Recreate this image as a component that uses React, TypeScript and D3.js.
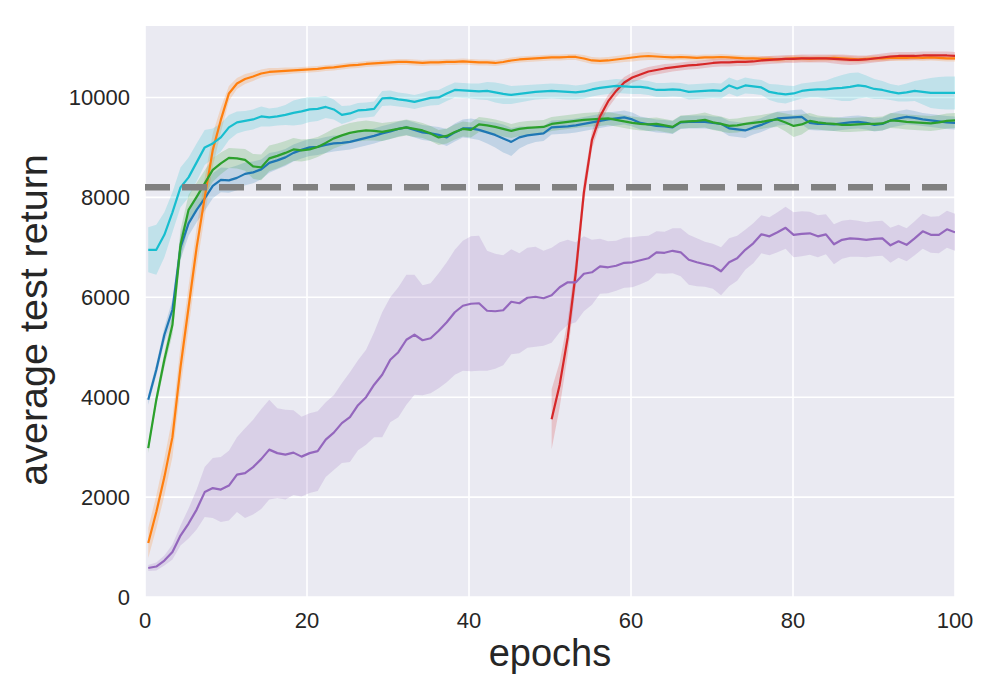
import React from 'react';
import * as d3 from 'd3';

// x positions of the logged points (one per epoch)
const epochs = d3.range(101).map(i => 0.4 + i * 0.996);

const blueMean = [
  3950, 4550, 5250, 5750, 7000, 7480, 7750, 7980, 8230, 8350,
  8340, 8390, 8470, 8500, 8560, 8690, 8740, 8800, 8890, 8950,
  9000, 9010, 9050, 9080, 9090, 9110, 9150, 9190, 9230, 9280,
  9320, 9370, 9400, 9350, 9300, 9280, 9250, 9200, 9300, 9380,
  9380, 9350, 9300, 9250, 9180, 9110, 9200, 9240, 9260, 9280,
  9400, 9410, 9420, 9440, 9470, 9500, 9530, 9560, 9580, 9600,
  9560, 9490, 9460, 9430, 9420, 9400, 9500, 9510, 9510, 9510,
  9490, 9470, 9380, 9360, 9340, 9400, 9450, 9520, 9580, 9590,
  9600, 9610, 9490, 9470, 9470, 9460, 9480, 9500, 9510, 9490,
  9450, 9470, 9540, 9580, 9610, 9590, 9560, 9540, 9520, 9500,
  9490,
];
const blueSpread = [
  100, 120, 150, 200, 250, 250, 250, 250, 250, 250,
  250, 250, 230, 220, 200, 200, 180, 170, 170, 170,
  170, 160, 160, 160, 150, 150, 150, 150, 150, 150,
  150, 150, 150, 150, 150, 150, 160, 170, 180, 180,
  200, 200, 220, 250, 280, 280, 220, 180, 150, 150,
  140, 140, 140, 140, 140, 140, 140, 140, 140, 140,
  140, 130, 130, 130, 130, 130, 130, 130, 130, 130,
  130, 140, 150, 150, 150, 140, 140, 140, 140, 140,
  150, 150, 140, 130, 130, 130, 130, 130, 130, 130,
  130, 130, 140, 150, 150, 140, 130, 130, 130, 130,
  130,
];

const orangeMean = [
  1080, 1700, 2400, 3200, 4600, 5800, 7000, 8000, 8950, 9550,
  10080, 10280, 10370, 10420, 10480, 10510, 10520, 10530, 10540, 10550,
  10560, 10570, 10590, 10600, 10620, 10640, 10650, 10670, 10680, 10690,
  10700, 10710, 10710, 10700, 10690, 10700, 10700, 10710, 10710, 10720,
  10710, 10700, 10700, 10690, 10710, 10740, 10760, 10770, 10780, 10790,
  10800, 10800, 10810, 10810, 10780, 10740, 10730, 10740, 10760, 10780,
  10800, 10820, 10830, 10820, 10810, 10800, 10810, 10800, 10790, 10800,
  10800, 10810, 10800, 10790, 10780, 10780, 10770, 10770, 10760, 10770,
  10780, 10780, 10770, 10780, 10780, 10790, 10780, 10770, 10760, 10770,
  10780, 10780, 10790, 10790, 10790, 10800, 10790, 10800, 10790, 10780,
  10780,
];
const orangeSpread = [
  300, 330, 370, 400, 420, 420, 400, 380, 330, 250,
  150, 110, 100, 90, 80, 80, 70, 70, 60, 60,
  60, 60, 60, 60, 60, 60, 60, 60, 60, 60,
  60, 60, 60, 60, 60, 60, 60, 60, 60, 60,
  60, 60, 60, 60, 60, 60, 60, 60, 60, 60,
  60, 60, 60, 60, 70, 70, 70, 70, 70, 70,
  80, 80, 80, 70, 60, 60, 60, 60, 60, 60,
  60, 60, 60, 60, 60, 60, 60, 60, 60, 60,
  60, 60, 60, 60, 60, 60, 60, 60, 60, 60,
  60, 60, 60, 60, 60, 60, 60, 60, 60, 60,
  60,
];

const greenMean = [
  2980, 3950, 4750, 5450, 7050, 7750, 8010, 8280, 8550, 8680,
  8790, 8780, 8750, 8620, 8600, 8780, 8830, 8890, 8960, 8940,
  8960, 9010, 9090, 9180, 9240, 9290, 9320, 9340, 9330, 9310,
  9340, 9370, 9400, 9370, 9340, 9280, 9200, 9230, 9310, 9370,
  9350, 9460, 9440, 9410, 9370, 9330, 9370, 9390, 9400, 9410,
  9470, 9490, 9510, 9530, 9550, 9560, 9570, 9580, 9550, 9520,
  9490, 9470, 9460, 9470, 9440, 9410, 9510, 9520, 9530, 9550,
  9500, 9470, 9430, 9440, 9470, 9490, 9510, 9540, 9560, 9500,
  9430, 9460, 9530, 9500, 9480, 9470, 9450, 9450, 9460, 9470,
  9470, 9480, 9540, 9530, 9510, 9500, 9490, 9480, 9500, 9530,
  9540,
];
const greenSpread = [
  100, 120, 150, 200, 300, 300, 280, 260, 240, 220,
  200, 200, 220, 250, 260, 260, 250, 240, 230, 220,
  210, 200, 200, 200, 200, 200, 200, 200, 190, 180,
  170, 160, 160, 160, 150, 150, 150, 150, 150, 150,
  150, 150, 150, 150, 150, 140, 140, 140, 140, 140,
  140, 140, 140, 140, 140, 140, 140, 130, 130, 130,
  130, 130, 130, 130, 130, 130, 130, 130, 140, 150,
  150, 150, 140, 140, 140, 140, 140, 140, 150, 180,
  220, 200, 160, 140, 140, 140, 140, 140, 140, 140,
  140, 140, 150, 150, 150, 150, 150, 150, 150, 150,
  150,
];

// red run only starts logging at epoch 50
const redStart = 50;
const redMean = [
  3560, 4250, 5200, 6500, 8100, 9150, 9620, 9920, 10130, 10300,
  10400, 10460, 10520, 10550, 10580, 10600, 10620, 10640, 10650, 10670,
  10690, 10700, 10700, 10710, 10710, 10720, 10740, 10750, 10760, 10770,
  10770, 10780, 10780, 10780, 10780, 10770, 10760, 10750, 10750, 10760,
  10780, 10800, 10820, 10830, 10830, 10830, 10840, 10840, 10840, 10840,
  10830,
];
const redSpread = [
  600, 450, 350, 280, 230, 180, 150, 130, 120, 110,
  100, 100, 90, 90, 90, 80, 80, 80, 80, 80,
  80, 80, 80, 80, 80, 80, 80, 80, 80, 80,
  80, 80, 80, 80, 80, 90, 100, 100, 90, 80,
  80, 80, 80, 80, 80, 80, 80, 80, 80, 80,
  80,
];

const purpleMean = [
  580, 610, 730, 900, 1230, 1470, 1750, 2100, 2180, 2150,
  2230, 2450, 2480, 2600, 2760, 2950, 2880, 2850, 2890, 2810,
  2880, 2920, 3150, 3290, 3480, 3600, 3840, 4000, 4250, 4450,
  4750, 4900, 5150, 5250, 5140, 5180, 5330, 5500, 5700, 5830,
  5870, 5880, 5730, 5720, 5740, 5910, 5880, 5990, 6010, 5980,
  6040, 6200, 6300, 6300, 6470, 6500, 6620, 6600, 6630, 6690,
  6700, 6740, 6780, 6900, 6890, 6930, 6900, 6750, 6700, 6660,
  6620, 6520, 6700, 6780, 6950, 7080, 7260, 7220, 7300, 7390,
  7250, 7270, 7280, 7220, 7260, 7060, 7150, 7180, 7170, 7150,
  7170, 7180, 7040, 7120, 7050, 7180, 7320, 7250, 7250, 7360,
  7300,
];
const purpleSpread = [
  60, 80, 100, 150, 200, 300, 400, 500, 600, 650,
  700, 750, 900, 950, 1000, 1000, 900, 900, 850, 800,
  800, 800, 750, 750, 800, 900, 900, 950, 1050, 1250,
  1250, 1300, 1300, 1200, 1100, 1100, 1150, 1200, 1250, 1300,
  1350, 1350, 1200, 1150, 1100, 1050, 1000, 1000, 1000, 950,
  950, 900, 850, 800, 750, 650, 550, 520, 500, 500,
  500, 480, 450, 420, 420, 450, 480, 500, 480, 450,
  450, 480, 480, 450, 400, 400, 380, 380, 400, 420,
  450, 450, 430, 420, 400, 400, 380, 370, 360, 350,
  350, 350, 350, 330, 330, 340, 350, 360, 370, 370,
  370,
];

const cyanMean = [
  6950, 6950, 7250, 7700, 8200, 8400, 8700, 9000, 9080, 9200,
  9400, 9500, 9530, 9560, 9620, 9600, 9620, 9650, 9690, 9720,
  9760, 9770, 9810, 9760, 9650, 9680, 9740, 9750, 9770, 9980,
  9990, 9960, 9940, 9910, 9950, 9990, 10000, 10080, 10150, 10140,
  10130, 10120, 10130, 10100, 10070, 10050, 10070, 10090, 10110, 10120,
  10130, 10120, 10110, 10100, 10120, 10160, 10190, 10210, 10230, 10220,
  10210, 10210, 10190, 10150, 10150, 10160, 10150, 10110, 10120, 10130,
  10140, 10130, 10240, 10180, 10240, 10220, 10200, 10110, 10080, 10060,
  10080, 10130, 10150, 10160, 10160, 10180, 10190, 10210, 10240, 10220,
  10170, 10150, 10110, 10080, 10100, 10130, 10110, 10090, 10090, 10090,
  10090,
];
const cyanSpread = [
  450, 500, 450, 400, 400, 400, 380, 350, 300, 280,
  250, 220, 200, 200, 200, 180, 180, 200, 250, 260,
  250, 240, 220, 200, 180, 160, 150, 150, 150, 150,
  150, 140, 140, 140, 140, 150, 150, 150, 150, 150,
  150, 160, 180, 200, 200, 180, 170, 160, 150, 150,
  150, 150, 150, 140, 140, 140, 140, 140, 140, 140,
  140, 140, 140, 140, 140, 140, 140, 150, 150, 150,
  150, 150, 160, 160, 160, 150, 150, 160, 180, 180,
  150, 150, 150, 160, 180, 220, 260, 280, 260, 220,
  200, 180, 160, 160, 180, 200, 250, 300, 320, 330,
  330,
];

const baselineReturn = 8200;
const xTicks = [0, 20, 40, 60, 80, 100];
const yTicks = [0, 2000, 4000, 6000, 8000, 10000];

const series = [
  { key: 'blue', color: '#1f77b4', mean: blueMean, spread: blueSpread, start: 0 },
  { key: 'orange', color: '#ff7f0e', mean: orangeMean, spread: orangeSpread, start: 0 },
  { key: 'green', color: '#2ca02c', mean: greenMean, spread: greenSpread, start: 0 },
  { key: 'red', color: '#d62728', mean: redMean, spread: redSpread, start: redStart },
  { key: 'purple', color: '#9467bd', mean: purpleMean, spread: purpleSpread, start: 0 },
  { key: 'cyan', color: '#17becf', mean: cyanMean, spread: cyanSpread, start: 0 },
];

const width = 1000;
const height = 700;
const margin = { top: 26, right: 45, bottom: 103, left: 145 };
const font = "'Liberation Sans', Arial, sans-serif";
const ink = '#262626';

export default function App() {
  const x = d3.scaleLinear().domain([0, 100]).range([margin.left, width - margin.right]);
  const y = d3.scaleLinear().domain([0, 11430]).range([height - margin.bottom, margin.top]);

  type Pt = { x: number; m: number; s: number };

  const line = d3.line<Pt>().x(d => x(d.x)).y(d => y(d.m));
  const area = d3.area<Pt>()
    .x(d => x(d.x))
    .y0(d => y(d.m - d.s))
    .y1(d => y(d.m + d.s));

  const pts = (s: typeof series[number]): Pt[] =>
    s.mean.map((m, i) => ({ x: epochs[s.start + i], m, s: s.spread[i] }));

  const plotW = width - margin.left - margin.right;
  const plotH = height - margin.top - margin.bottom;

  return (
    <div style={{ position: 'absolute', left: 0, top: 0 }}>
      <svg width={width} height={height} style={{ display: 'block', background: '#fff' }}>
        <defs>
          <clipPath id="plot-clip">
            <rect x={margin.left} y={margin.top} width={plotW} height={plotH} />
          </clipPath>
        </defs>

        <rect x={margin.left} y={margin.top} width={plotW} height={plotH} fill="#eaeaf2" />

        {/* grid */}
        <g stroke="#fff" strokeWidth={1.6}>
          {xTicks.map(t => (
            <line key={`gx${t}`} x1={x(t)} x2={x(t)} y1={margin.top} y2={height - margin.bottom} />
          ))}
          {yTicks.map(t => (
            <line key={`gy${t}`} x1={margin.left} x2={width - margin.right} y1={y(t)} y2={y(t)} />
          ))}
        </g>

        <g clipPath="url(#plot-clip)">
          {series.map(s => (
            <path key={`band-${s.key}`} d={area(pts(s)) || ''} fill={s.color} fillOpacity={0.2} stroke="none" />
          ))}
          {series.map(s => (
            <path key={`line-${s.key}`} d={line(pts(s)) || ''} fill="none" stroke={s.color} strokeWidth={2.2} strokeLinejoin="round" />
          ))}
          <line
            x1={margin.left}
            x2={width - margin.right}
            y1={y(baselineReturn)}
            y2={y(baselineReturn)}
            stroke="#808080"
            strokeWidth={6.5}
            strokeDasharray="25 12"
          />
        </g>

        {/* tick labels */}
        <g fontFamily={font} fontSize={22} fill={ink}>
          {xTicks.map(t => (
            <text key={`tx${t}`} x={x(t)} y={height - margin.bottom + 31} textAnchor="middle">{t}</text>
          ))}
          {yTicks.map(t => (
            <text key={`ty${t}`} x={margin.left - 15} y={y(t) + 8} textAnchor="end">{t}</text>
          ))}
        </g>

        <text x={x(50)} y={666} textAnchor="middle" fontFamily={font} fontSize={38} fill={ink}>epochs</text>
        <text
          transform={`translate(47, ${320}) rotate(-90)`}
          textAnchor="middle"
          fontFamily={font}
          fontSize={39.5}
          fill={ink}
        >
          average test return
        </text>
      </svg>
    </div>
  );
}
